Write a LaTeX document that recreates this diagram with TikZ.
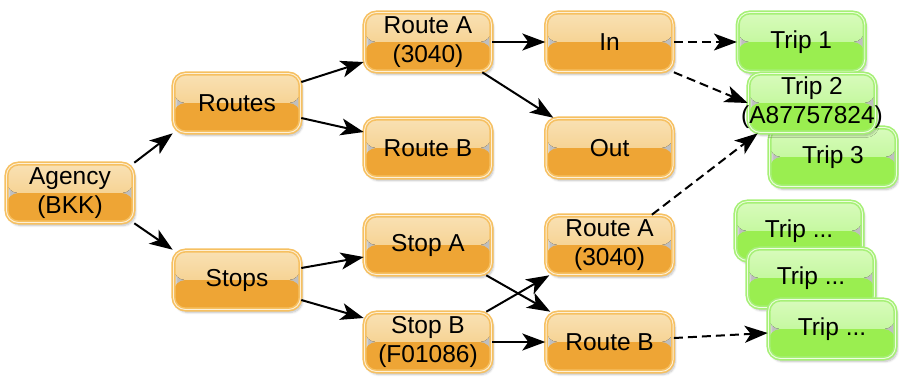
\documentclass[tikz,border=0pt]{standalone}
\usepackage{fontspec}
\setmainfont{Liberation Sans}
\usetikzlibrary{arrows.meta}
\usetikzlibrary{positioning}
\usetikzlibrary{shadows.blur}

\definecolor{ortop}{HTML}{F9E1B4}
\definecolor{ormid}{HTML}{F3C676}
\definecolor{orlow}{HTML}{EEA535}
\definecolor{oredge}{HTML}{F6C061}
\definecolor{orline}{HTML}{FDF0D8}
\definecolor{grtop}{HTML}{D8FBBC}
\definecolor{grmid}{HTML}{B3F585}
\definecolor{grlow}{HTML}{9AEE50}
\definecolor{gredge}{HTML}{A6F076}
\definecolor{grline}{HTML}{EEFDE0}

\tikzset{
  box/.style={rectangle, rounded corners=12pt, minimum width=127pt,
    minimum height=59pt, inner sep=0pt, align=center,
    line width=1.6pt, double distance=0.9pt,
    font=\fontsize{24.5}{29}\selectfont,
    blur shadow={shadow xshift=2pt, shadow yshift=-3pt,
      shadow blur steps=6, shadow opacity=25}},
  routebox/.style={box, draw=oredge, double=orline,
    path picture={
      \fill[top color=ortop, bottom color=ormid]
        (path picture bounding box.north west) rectangle (path picture bounding box.east);
      \fill[orlow]
        (path picture bounding box.west) rectangle (path picture bounding box.south east);
    }},
  tripbox/.style={box, draw=gredge, double=grline,
    path picture={
      \fill[top color=grtop, bottom color=grmid]
        (path picture bounding box.north west) rectangle (path picture bounding box.east);
      \fill[grlow]
        (path picture bounding box.west) rectangle (path picture bounding box.south east);
    }},
  arr/.style={-{Stealth[length=23pt,width=17pt,inset=6pt]}, line width=2pt},
  dasharr/.style={arr, dash pattern=on 9pt off 5pt},
}

\begin{document}
\begin{tikzpicture}[x=1pt,y=1pt]
  \useasboundingbox (0,0) rectangle (899,-376);

  % left part
  \node[routebox] (agency) at (70,-193) {Agency\\(BKK)};
  \node[routebox] (routes) at (237,-103) {Routes};
  \node[routebox] (stops) at (237,-280) {Stops};

  \node[routebox] (routeA) at (428,-42) {Route A\\(3040)};
  \node[routebox] (routeB) at (428,-148) {Route B};
  \node[routebox] (stopA) at (428,-245) {Stop A};
  \node[routebox] (stopB) at (428,-342) {Stop B\\(F01086)};

  \node[routebox, right=53pt of routeA] (in) {In};
  \node[routebox, right=53pt of routeB] (out) {Out};
  \node[routebox, right=53pt of stopA] (routeAs) {Route A\\(3040)};
  \node[routebox, right=53pt of stopB] (routeBs) {Route B};

  % trips
  \node[tripbox, right=63pt of in] (trip1) {Trip 1};
  \node[tripbox] (trip3) at (833,-157) {Trip 3};
  \node[tripbox] (trip2) at (812,-103) {Trip 2\\\makebox[0pt]{(A87757824)}};
  \node[tripbox] (tripA) at (799,-231) {Trip ...};
  \node[tripbox] (tripB) at (811,-278) {Trip ...};
  \node[tripbox] (tripC) at (832,-329) {Trip ...};

  % connectors
  \draw[arr] (agency.north east) -- (routes.south west);
  \draw[arr] (agency.south east) -- (stops.north west);
  \draw[arr] ([yshift=21pt]routes.east) -- ([yshift=-20pt]routeA.west);
  \draw[arr] ([yshift=-15pt]routes.east) -- ([yshift=16pt]routeB.west);
  \draw[arr] ([yshift=12pt]stops.east) -- ([yshift=-12pt]stopA.west);
  \draw[arr] ([yshift=-20pt]stops.east) -- ([yshift=24pt]stopB.west);
  \draw[arr] (routeA) -- (in);
  \draw[arr] ([xshift=-10pt]routeA.south east) -- ([xshift=8pt]out.north west);
  \draw[arr] ([xshift=-6pt]stopA.south east) -- ([xshift=5pt]routeBs.north west);
  \draw[arr] ([xshift=-6pt]stopB.north east) -- ([xshift=4pt]routeAs.south west);
  \draw[arr] (stopB) -- (routeBs);

  \draw[dasharr] (in) -- (trip1);
  \draw[dasharr] (in.south east) -- (trip2.west);
  \draw[dasharr] ([xshift=-22pt]routeAs.north east) -- ([xshift=10pt]trip2.south west);
  \draw[dasharr] ([yshift=4pt]routeBs.east) -- ([yshift=-4pt]tripC.west);
\end{tikzpicture}
\end{document}
